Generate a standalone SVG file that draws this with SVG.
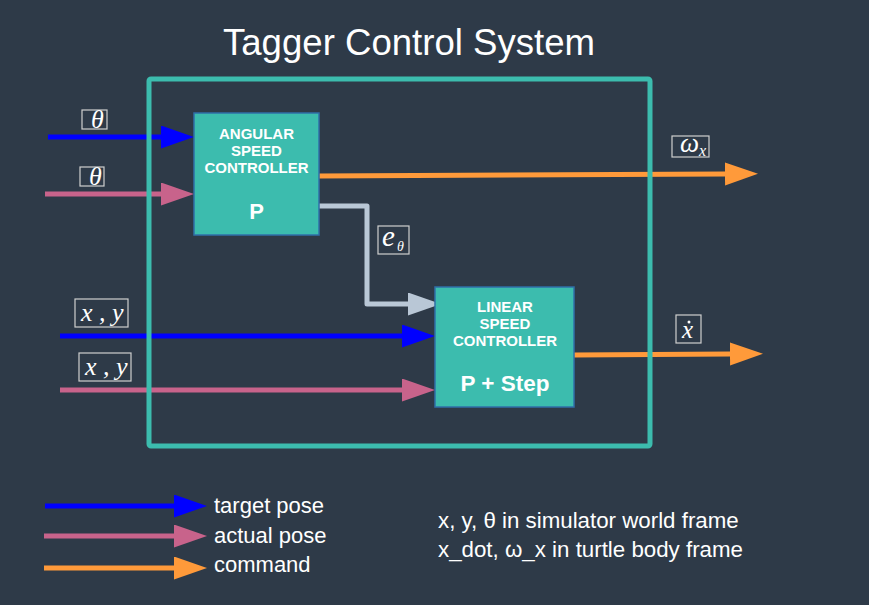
<svg xmlns="http://www.w3.org/2000/svg" width="869" height="605" viewBox="0 0 869 605">
<defs>
<style>
.ln{fill:none;stroke-width:5;stroke-linejoin:round}
.blue{stroke:#0000ff}
.pink{stroke:#c8638b}
.orange{stroke:#ff9a3a}
.gray{stroke:#b9c7d6}
.box{fill:#3cbcae;stroke:#2f6fa8;stroke-width:1.5}
.bt{font-family:"Liberation Sans",Arial,sans-serif;font-weight:bold;fill:#ffffff;text-anchor:middle}
.lab{fill:none;stroke:#cfcfcf;stroke-width:1.2}
.math{font-family:"Liberation Serif","Times New Roman",serif;font-style:italic;fill:#ffffff}
.txt{font-family:"Liberation Sans",Arial,sans-serif;fill:#ffffff}
</style>
<marker id="hBlue" markerUnits="userSpaceOnUse" markerWidth="34" markerHeight="24" refX="0" refY="11.5" orient="auto"><path d="M0,0 L33,11.5 L0,23 Z" fill="#0000ff"/></marker>
<marker id="hPink" markerUnits="userSpaceOnUse" markerWidth="34" markerHeight="24" refX="0" refY="11.5" orient="auto"><path d="M0,0 L33,11.5 L0,23 Z" fill="#c8638b"/></marker>
<marker id="hOrange" markerUnits="userSpaceOnUse" markerWidth="34" markerHeight="24" refX="0" refY="11.5" orient="auto"><path d="M0,0 L33,11.5 L0,23 Z" fill="#ff9a3a"/></marker>
<marker id="hGray" markerUnits="userSpaceOnUse" markerWidth="34" markerHeight="24" refX="0" refY="11.5" orient="auto"><path d="M0,0 L33,11.5 L0,23 Z" fill="#b9c7d6"/></marker>
</defs>
<rect x="0" y="0" width="869" height="605" fill="#2e3a48"/>
<text x="409" y="55" class="txt" font-size="36.6" text-anchor="middle">Tagger Control System</text>

<g id="connectors">
<path class="ln blue" d="M48,137 H161" marker-end="url(#hBlue)"/>
<path class="ln pink" d="M45,194 H161" marker-end="url(#hPink)"/>
<path class="ln orange" d="M319,176 L725,174" marker-end="url(#hOrange)"/>
<path class="ln gray" d="M319,206 H367 V304 H408" marker-end="url(#hGray)"/>
<path class="ln blue" d="M60,336 H402" marker-end="url(#hBlue)"/>
<path class="ln pink" d="M60,390 H402" marker-end="url(#hPink)"/>
<path class="ln orange" d="M574,355 L730,354" marker-end="url(#hOrange)"/>
</g>

<g id="frame">
<rect x="149" y="79" width="501" height="367" rx="2" fill="none" stroke="#3cbcae" stroke-width="5"/>
</g>

<g id="angular">
<rect class="box" x="194" y="113" width="125" height="122"/>
<text class="bt" x="256.5" y="139" font-size="15">ANGULAR</text>
<text class="bt" x="256.5" y="156" font-size="15">SPEED</text>
<text class="bt" x="256.5" y="173" font-size="15">CONTROLLER</text>
<text class="bt" x="256.5" y="219" font-size="22">P</text>
</g>

<g id="linear">
<rect class="box" x="435" y="287" width="139" height="120"/>
<text class="bt" x="505" y="312" font-size="15">LINEAR</text>
<text class="bt" x="505" y="329" font-size="15">SPEED</text>
<text class="bt" x="505" y="346" font-size="15">CONTROLLER</text>
<text class="bt" x="505" y="391" font-size="22.5">P + Step</text>
</g>

<g id="label-theta-target">
<rect class="lab" x="82" y="110" width="25" height="19"/>
<text class="math" x="91" y="128" font-size="26">θ</text>
</g>
<g id="label-theta-actual">
<rect class="lab" x="80" y="167" width="24" height="19"/>
<text class="math" x="89" y="185" font-size="26">θ</text>
</g>
<g id="label-omega">
<rect class="lab" x="672" y="136" width="37" height="21"/>
<text class="math" x="680" y="152" font-size="27">ω<tspan font-size="16" dy="4">x</tspan></text>
</g>
<g id="label-etheta">
<rect class="lab" x="378" y="226" width="31" height="28"/>
<text class="math" x="382" y="246" font-size="29">e<tspan font-size="14" dx="2" dy="5">θ</tspan></text>
</g>
<g id="label-xy-target">
<rect class="lab" x="75" y="299" width="53" height="28"/>
<text class="math" x="81" y="321" font-size="26">x , y</text>
</g>
<g id="label-xy-actual">
<rect class="lab" x="79" y="353" width="52" height="28"/>
<text class="math" x="85" y="375" font-size="26">x , y</text>
</g>
<g id="label-xdot">
<rect class="lab" x="676" y="315" width="25" height="28"/>
<text class="math" x="682" y="338" font-size="25">x</text>
<circle cx="689" cy="322" r="1.5" fill="#ffffff"/>
</g>

<g id="legend">
<path class="ln blue" d="M45,506 H174" marker-end="url(#hBlue)"/>
<path class="ln pink" d="M44,536 H174" marker-end="url(#hPink)"/>
<path class="ln orange" d="M44,568 H174" marker-end="url(#hOrange)"/>
<text class="txt" x="214" y="513" font-size="22">target pose</text>
<text class="txt" x="214" y="543" font-size="22">actual pose</text>
<text class="txt" x="214" y="572" font-size="22">command</text>
</g>

<g id="notes">
<text class="txt" x="438" y="528" font-size="22.3">x, y, θ in simulator world frame</text>
<text class="txt" x="438" y="557" font-size="22.3">x_dot, ω_x in turtle body frame</text>
</g>
</svg>
